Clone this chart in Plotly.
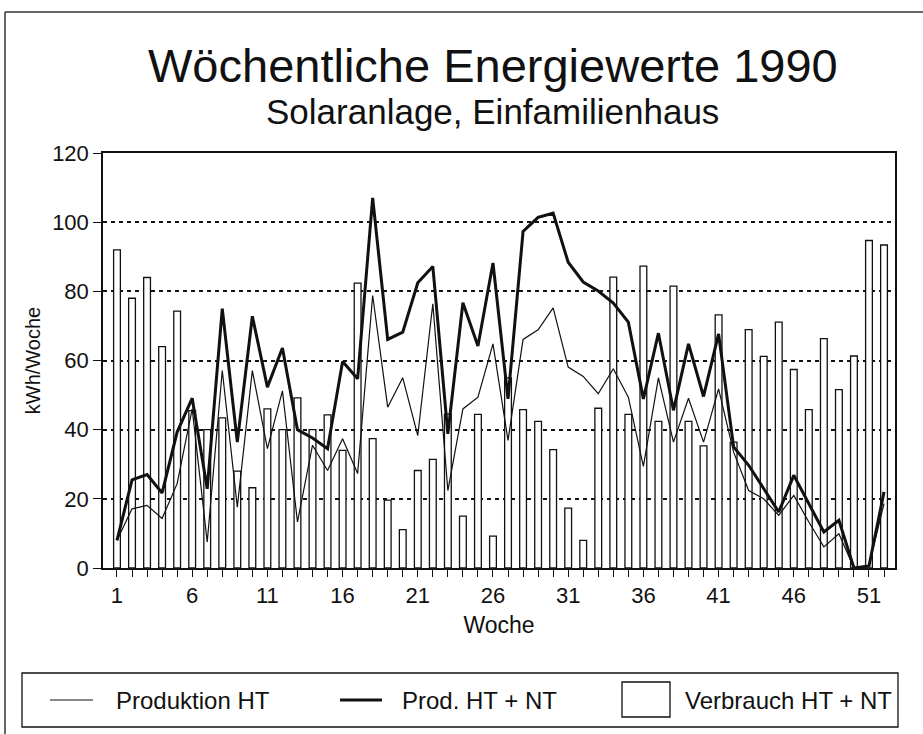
import plotly.graph_objects as go

weeks = list(range(1, 53))
tick_labels = {1: "1", 6: "6", 11: "11", 16: "16", 21: "21", 26: "26", 31: "31",
               36: "36", 41: "41", 46: "46", 51: "51"}

verbrauch = [92, 78, 84, 64, 74.3, 45.5, 40, 43.4, 28, 23.2, 46, 40, 49.2,
             40, 44.3, 34, 82.4, 37.4, 19.6, 11.1, 28.2, 31.4, 44.5, 15, 44.4, 9.2,
             55, 45.8, 42.4, 34.2, 17.3, 8, 46.2, 84.1, 44.4, 87.3, 42.4, 81.5, 42.4,
             35.3, 73.2, 36.4, 68.9, 61.2, 71.1, 57.4, 45.8, 66.3, 51.6, 61.3, 94.7, 93.4]

produktion_ht = [8.0, 17.1, 18.1, 14.3, 24.4, 46, 7.5, 57.1, 17.6, 57.1, 34.5, 51.2, 13.3,
                 35.5, 28.2, 37.4, 27.3, 78.8, 46.5, 55.0, 38.3, 76.4, 22.4, 46.0, 49.4, 64.8,
                 36.9, 66.1, 68.9, 75.2, 58.1, 55.4, 50.4, 57.6, 49.4, 29.4, 55.0, 36.4, 49.1,
                 36.4, 51.8, 33.5, 22.4, 20.0, 15.2, 21.0, 13.3, 6.1, 9.9, 0, 0.8, 18.6]

prod_ht_nt = [8.0, 25.5, 27.0, 21.7, 39.3, 49.1, 22.9, 75.0, 36.4, 72.8, 52.3, 63.6, 40.0,
              37.6, 34.5, 59.7, 54.7, 107.0, 66.1, 68.2, 82.5, 87.2, 38.8, 76.7, 64.2, 88.2,
              48.9, 97.3, 101.4, 102.6, 88.4, 82.7, 80.1, 76.6, 71.1, 48.9, 67.9, 45.6, 64.8,
              49.6, 67.7, 35.0, 29.7, 22.9, 16.2, 26.8, 18.6, 10.4, 13.8, 0, 0.6, 22.0]

legend_labels = ["Produktion HT", "Prod. HT + NT", "Verbrauch HT + NT"]

FONT = "Liberation Sans, Arial, Helvetica, sans-serif"
INK = "#111"

# plot area in pixels (for placing page furniture)
L, R, T, B = 103, 895, 153, 568


def px(x):
    return (x - L) / (R - L)


def py(y):
    return (B - y) / (B - T)


fig = go.Figure()
fig.add_trace(go.Bar(x=weeks, y=verbrauch, name=legend_labels[2], width=0.45,
                     marker=dict(color="white", line=dict(color=INK, width=1.3))))
fig.add_trace(go.Scatter(x=weeks, y=produktion_ht, name=legend_labels[0], mode="lines",
                         line=dict(color=INK, width=1.2)))
fig.add_trace(go.Scatter(x=weeks, y=prod_ht_nt, name=legend_labels[1], mode="lines",
                         line=dict(color=INK, width=3)))

fig.update_layout(
    width=923, height=734,
    margin=dict(l=L, r=923 - R, t=T, b=734 - B, autoexpand=False),
    paper_bgcolor="white", plot_bgcolor="white",
    font=dict(family=FONT, color=INK, size=22),
    showlegend=False,
    barmode="overlay",
    xaxis=dict(
        range=[0.07, 52.73],
        tickmode="array", tickvals=weeks,
        ticktext=[tick_labels.get(w, "") for w in weeks],
        ticks="outside", ticklen=7, tickwidth=1.2, tickcolor=INK,
        showline=True, linecolor=INK, linewidth=1.5, mirror=True,
        showgrid=False, zeroline=False, automargin=False,
        tickfont=dict(size=22),
        title=dict(text="Woche", font=dict(size=23), standoff=10),
    ),
    yaxis=dict(
        range=[0, 120], tickvals=[0, 20, 40, 60, 80, 100, 120],
        ticks="outside", ticklen=8, tickwidth=1.2, tickcolor=INK,
        showline=True, linecolor=INK, linewidth=1.5, mirror=True,
        showgrid=True, gridcolor=INK, gridwidth=1.5, griddash="4px,4px",
        zeroline=False, automargin=False,
        tickfont=dict(size=22),
        title=dict(text="kWh/Woche", font=dict(size=20), standoff=6),
    ),
)

annotations = [
    dict(text="Wöchentliche Energiewerte 1990", x=px(493), y=py(66), xref="paper", yref="paper",
         xanchor="center", yanchor="middle", showarrow=False, font=dict(size=47, family=FONT, color=INK)),
    dict(text="Solaranlage, Einfamilienhaus", x=px(492), y=py(111), xref="paper", yref="paper",
         xanchor="center", yanchor="middle", showarrow=False, font=dict(size=35, family=FONT, color=INK)),
]

# manual legend (box, samples, labels)
shapes = [
    dict(type="rect", xref="paper", yref="paper", x0=px(22), x1=px(898), y0=py(673), y1=py(727),
         line=dict(color=INK, width=1.3), fillcolor="white"),
    dict(type="line", xref="paper", yref="paper", x0=px(50), x1=px(93), y0=py(700), y1=py(700),
         line=dict(color=INK, width=1.2)),
    dict(type="line", xref="paper", yref="paper", x0=px(340), x1=px(382), y0=py(700), y1=py(700),
         line=dict(color=INK, width=3)),
    dict(type="rect", xref="paper", yref="paper", x0=px(622), x1=px(670), y0=py(682), y1=py(717),
         line=dict(color=INK, width=1.3), fillcolor="white"),
    # outer page frame (top and left edges)
    dict(type="line", xref="paper", yref="paper", x0=px(5), x1=px(923), y0=py(12), y1=py(12),
         line=dict(color="#333", width=1.5)),
    dict(type="line", xref="paper", yref="paper", x0=px(5), x1=px(5), y0=py(12), y1=py(734),
         line=dict(color="#333", width=1.5)),
]
for label, xs in zip(legend_labels, [114, 400, 683]):
    annotations.append(dict(text=label, x=px(xs), y=py(700), xref="paper", yref="paper",
                            xanchor="left", yanchor="middle", showarrow=False,
                            font=dict(size=24, family=FONT, color=INK)))

fig.update_layout(annotations=annotations, shapes=shapes)

fig.write_html("out.html", config={"displayModeBar": False},
               post_script="document.body.style.margin='0';document.body.style.padding='0';")
